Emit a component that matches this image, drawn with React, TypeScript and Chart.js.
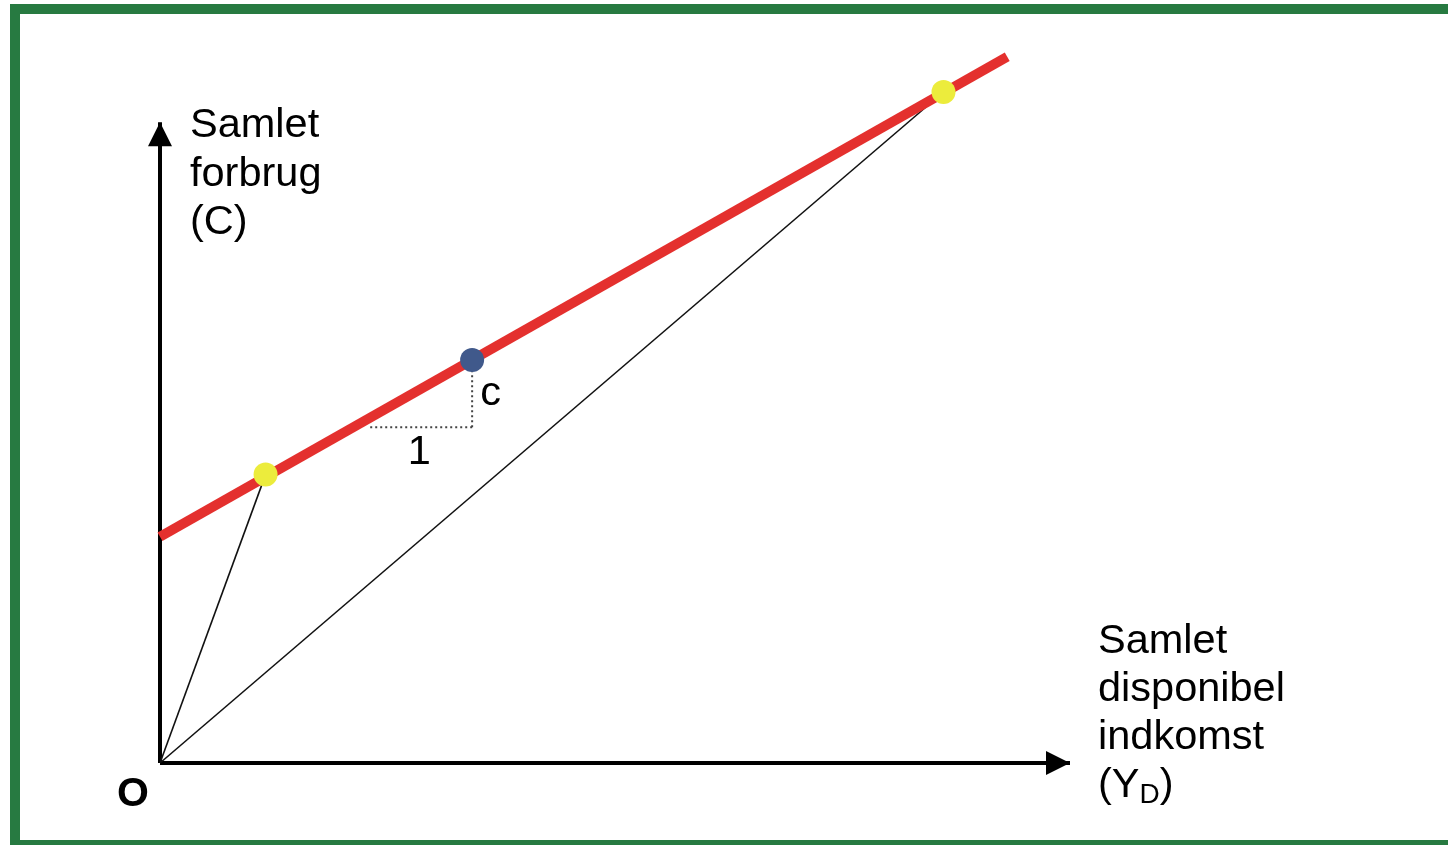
import React, { useEffect, useRef } from "react";
import { Chart, registerables } from "chart.js";

Chart.register(...registerables);

// ---- data (in chart units) ----
const consumptionLine = [
  { x: 0, y: 35.3 },
  { x: 93.1, y: 110.2 },
];
const yellowPoints = [
  { x: 11.6, y: 45.0 },
  { x: 86.1, y: 104.7 },
];
const bluePoint = [{ x: 34.3, y: 62.9 }];
const rayLow = [
  { x: 0, y: 0 },
  { x: 11.6, y: 45.0 },
];
const rayHigh = [
  { x: 0, y: 0 },
  { x: 86.1, y: 104.7 },
];
const slopeRun = [
  { x: 23.1, y: 52.4 },
  { x: 34.3, y: 52.4 },
];
const slopeRise = [
  { x: 34.3, y: 52.4 },
  { x: 34.3, y: 62.9 },
];
const axisXLine = [
  { x: 0, y: 0 },
  { x: 100, y: 0 },
];
const axisYLine = [
  { x: 0, y: 0 },
  { x: 0, y: 100 },
];
const yLabelLines = ["Samlet", "forbrug", "(C)"];
const xLabelLines = ["Samlet", "disponibel", "indkomst"];
const xLabelLast = { open: "(Y", sub: "D", close: ")" };
const slopeLabel = "c";
const runLabel = "1";
const originLabel = "O";

const FONT = '"Liberation Sans", Arial, sans-serif';

const decorPlugin = {
  id: "decor",
  beforeDraw(chart: any) {
    const ctx = chart.ctx;
    ctx.save();
    ctx.fillStyle = "#ffffff";
    ctx.fillRect(0, 0, chart.width, chart.height);
    ctx.fillStyle = "#277a41";
    ctx.fillRect(10, 4, 10, 845);
    ctx.fillRect(10, 4, chart.width, 10);
    ctx.fillRect(10, 840, chart.width, 10);
    ctx.restore();
  },
  afterDraw(chart: any) {
    const ctx = chart.ctx;
    const xs = chart.scales.x;
    const ys = chart.scales.y;
    const ox = xs.getPixelForValue(0);
    const oy = ys.getPixelForValue(0);
    const xEnd = xs.getPixelForValue(axisXLine[1].x);
    const yEnd = ys.getPixelForValue(axisYLine[1].y);
    ctx.save();
    ctx.fillStyle = "#000";
    // arrowheads
    ctx.beginPath();
    ctx.moveTo(ox, yEnd);
    ctx.lineTo(ox - 12, yEnd + 24);
    ctx.lineTo(ox + 12, yEnd + 24);
    ctx.closePath();
    ctx.fill();
    ctx.beginPath();
    ctx.moveTo(xEnd, oy);
    ctx.lineTo(xEnd - 24, oy - 12);
    ctx.lineTo(xEnd - 24, oy + 12);
    ctx.closePath();
    ctx.fill();

    // labels
    ctx.textBaseline = "alphabetic";
    ctx.textAlign = "left";
    ctx.font = `41.5px ${FONT}`;
    yLabelLines.forEach((t, i) => {
      ctx.fillText(t, ox + 30, yEnd + 15 + i * 48.5);
    });
    xLabelLines.forEach((t, i) => {
      ctx.fillText(t, xEnd + 28, oy - 110 + i * 48);
    });
    const lastY = oy - 110 + 3 * 48;
    let cx = xEnd + 28;
    ctx.fillText(xLabelLast.open, cx, lastY);
    cx += ctx.measureText(xLabelLast.open).width;
    ctx.font = `28px ${FONT}`;
    ctx.fillText(xLabelLast.sub, cx, lastY + 6);
    cx += ctx.measureText(xLabelLast.sub).width;
    ctx.font = `41.5px ${FONT}`;
    ctx.fillText(xLabelLast.close, cx, lastY);

    // slope labels
    const riseX = xs.getPixelForValue(slopeRise[0].x);
    const riseMid = ys.getPixelForValue((slopeRise[0].y + slopeRise[1].y) / 2);
    ctx.fillText(slopeLabel, riseX + 8, riseMid + 11);
    const runMid = xs.getPixelForValue((slopeRun[0].x + slopeRun[1].x) / 2);
    const runY = ys.getPixelForValue(slopeRun[0].y);
    ctx.textAlign = "center";
    ctx.fillText(runLabel, runMid - 2, runY + 37);

    ctx.textAlign = "right";
    ctx.font = `bold 41px ${FONT}`;
    ctx.fillText(originLabel, ox - 11, oy + 43);
    ctx.restore();
  },
};

export default function App() {
  const canvasRef = useRef<HTMLCanvasElement | null>(null);

  useEffect(() => {
    if (!canvasRef.current) return;
    const chart = new Chart(canvasRef.current, {
      type: "scatter",
      data: {
        datasets: [
          {
            data: bluePoint,
            backgroundColor: "#40598b",
            borderWidth: 0,
            pointRadius: 12,
            showLine: false,
            clip: false,
          } as any,
          {
            data: yellowPoints,
            backgroundColor: "#ecec3c",
            borderWidth: 0,
            pointRadius: 12,
            showLine: false,
            clip: false,
          } as any,
          {
            data: consumptionLine,
            showLine: true,
            borderColor: "#e4302e",
            borderWidth: 10,
            pointRadius: 0,
            borderCapStyle: "butt",
            clip: false,
          } as any,
          {
            data: slopeRun,
            showLine: true,
            borderColor: "#444",
            borderWidth: 2,
            borderDash: [2, 3],
            pointRadius: 0,
            clip: false,
          } as any,
          {
            data: slopeRise,
            showLine: true,
            borderColor: "#444",
            borderWidth: 2,
            borderDash: [2, 3],
            pointRadius: 0,
            clip: false,
          } as any,
          {
            data: rayLow,
            showLine: true,
            borderColor: "#111",
            borderWidth: 1.6,
            pointRadius: 0,
            clip: false,
          } as any,
          {
            data: rayHigh,
            showLine: true,
            borderColor: "#111",
            borderWidth: 1.6,
            pointRadius: 0,
            clip: false,
          } as any,
          {
            data: axisXLine,
            showLine: true,
            borderColor: "#000",
            borderWidth: 4,
            pointRadius: 0,
            clip: false,
          } as any,
          {
            data: axisYLine,
            showLine: true,
            borderColor: "#000",
            borderWidth: 4,
            pointRadius: 0,
            clip: false,
          } as any,
        ],
      },
      options: {
        animation: false,
        responsive: true,
        maintainAspectRatio: false,
        layout: { padding: { left: 160, right: 378, top: 26, bottom: 82 } },
        plugins: { legend: { display: false }, tooltip: { enabled: false } },
        events: [],
        scales: {
          x: { type: "linear", min: 0, max: 100, display: false },
          y: { type: "linear", min: 0, max: 115, display: false },
        },
      },
      plugins: [decorPlugin],
    });
    return () => chart.destroy();
  }, []);

  return (
    <div style={{ position: "fixed", left: 0, top: 0, width: 1448, height: 845, background: "#fff" }}>
      <canvas ref={canvasRef} />
    </div>
  );
}
